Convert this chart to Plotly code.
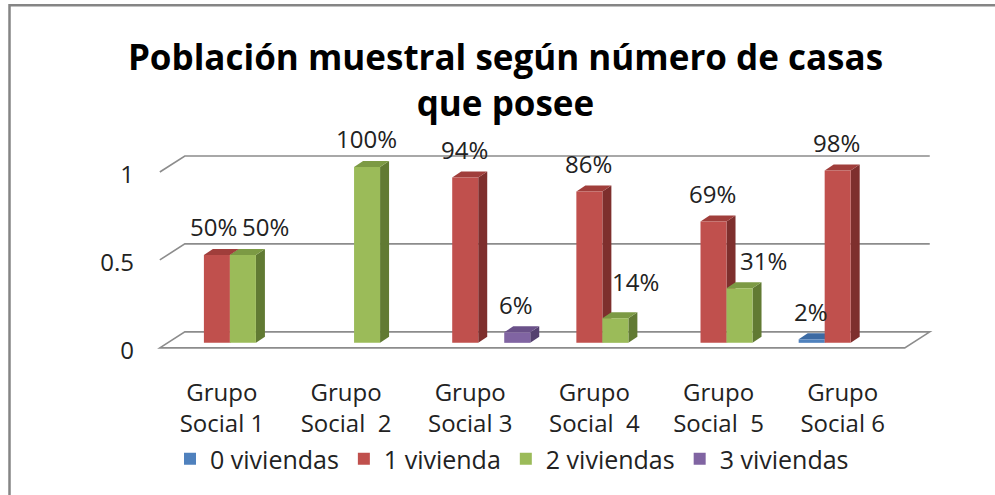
import plotly.graph_objects as go

# ---------------- data ----------------
CATEGORIES = ["Grupo<br>Social 1", "Grupo<br>Social\u00a0 2", "Grupo<br>Social 3",
              "Grupo<br>Social\u00a0 4", "Grupo<br>Social\u00a0 5", "Grupo<br>Social 6"]
SERIES = ["0 viviendas", "1 vivienda", "2 viviendas", "3 viviendas"]
V0 = [None, None, None, None, None, 0.02]
V1 = [0.50, None, 0.94, 0.86, 0.69, 0.98]
V2 = [0.50, 1.00, None, 0.14, 0.31, None]
V3 = [None, None, 0.06, None, None, None]
Y_TICKS = [0, 0.5, 1]
Y_TICK_TEXT = ["0", "0.5", "1"]
TITLE = "Población muestral según número de casas<br>que posee"

VALUES = [V0, V1, V2, V3]

# ---------------- style ----------------
FRONT = ["#4F81BD", "#C0504D", "#9BBB59", "#8064A2"]
SIDE = ["#2E5587", "#7E2F2D", "#617A33", "#54406F"]
TOP = ["#3C6AA3", "#A03E3B", "#7C9A44", "#6A5189"]
GRID = "#8C8C8C"
FONT = "Open Sans"

W, H = 995, 495
L, R, T, B = 143, 45, 123, 117
XR = [-0.7, 5.8]
YR = [-0.2, 1.25]
SX = (W - L - R) / (XR[1] - XR[0])   # px per category unit
SY = (H - T - B) / (YR[1] - YR[0])   # px per value unit


def dx(p):
    return p / SX


def dy(p):
    return p / SY


SLOT = 0.2095            # width of one column (category units)
DEPTH = (dx(9), dy(6))    # column side/top depth
BACK = (dx(17), dy(11))   # back wall offset from the column plane
FRONTP = (dx(-8), dy(-5))  # front edge offset from the column plane

# label nudges (px) for labels Excel moved to avoid overlaps: (series, group) -> (dx, dy)
LABEL_NUDGE = {(1, 0): (-3, 0), (2, 0): (23, 0), (2, 3): (20, 9), (2, 4): (24, 0)}

fig = go.Figure()
shapes = []
annotations = []


def poly(pts, fill, line_color=None, line_width=0):
    path = "M " + " L ".join(f"{x},{y}" for x, y in pts) + " Z"
    d = dict(type="path", path=path, xref="x", yref="y", layer="below",
             fillcolor=fill, line=dict(width=line_width, color=line_color or fill))
    return d


# floor
xl, xr = -0.5, 5.5
floor = [(xl + FRONTP[0], FRONTP[1]), (xl + BACK[0], BACK[1]),
         (xr + BACK[0], BACK[1]), (xr + FRONTP[0], FRONTP[1])]
shapes.append(poly(floor, "white", GRID, 1.6))
# gridlines (left diagonal + back wall)
for v in Y_TICKS[1:]:
    path = (f"M {xl + FRONTP[0]},{v + FRONTP[1]} L {xl + BACK[0]},{v + BACK[1]} "
            f"L {xr + BACK[0]},{v + BACK[1]}")
    shapes.append(dict(type="path", path=path, xref="x", yref="y", layer="below",
                       line=dict(color=GRID, width=1.6)))

# columns
for k, (name, vals) in enumerate(zip(SERIES, VALUES)):
    off = (k - 2) * SLOT
    fig.add_trace(go.Bar(
        x=list(range(len(CATEGORIES))), y=vals, name=name,
        width=SLOT, offset=off, marker=dict(color=FRONT[k], line=dict(width=0)),
        hoverinfo="skip",
    ))
    for i, v in enumerate(vals):
        if v is None:
            continue
        x0 = i + off
        x1 = x0 + SLOT
        ddx, ddy = DEPTH
        shapes.append(poly([(x1, 0), (x1 + ddx, ddy), (x1 + ddx, v + ddy), (x1, v)], SIDE[k]))
        shapes.append(poly([(x0, v), (x0 + ddx, v + ddy), (x1 + ddx, v + ddy), (x1, v)], TOP[k]))
        nx, ny = LABEL_NUDGE.get((k, i), (-1, 0))
        annotations.append(dict(
            x=(x0 + x1) / 2, y=v, xref="x", yref="y", text=f"{round(v * 100)}%",
            showarrow=False, xshift=nx, yshift=28 + ny,
            font=dict(family=FONT, size=24, color="#222222"),
        ))

# chart border (partially cropped frame)
pw, ph = W - L - R, H - T - B
shapes.append(dict(type="rect", xref="paper", yref="paper",
                   x0=(9.5 - L) / pw, x1=(W + 20 - L) / pw,
                   y0=(H - B - (H + 20)) / ph, y1=(H - B - 5.3) / ph,
                   line=dict(color="#858585", width=2.5), fillcolor="rgba(0,0,0,0)",
                   layer="above"))

fig.update_layout(
    width=W, height=H,
    margin=dict(l=L, r=R, t=T, b=B, autoexpand=False),
    paper_bgcolor="white", plot_bgcolor="white",
    barmode="overlay",
    showlegend=True,
    title=dict(text=TITLE, x=0.508, xref="container", xanchor="center",
               y=1 - 70 / H, yref="container", yanchor="top",
               font=dict(family=FONT, size=35, color="black", weight="bold")),
    xaxis=dict(range=XR, tickmode="array", tickvals=list(range(len(CATEGORIES))),
               ticktext=CATEGORIES, showgrid=False, zeroline=False, showline=False,
               ticks="", ticklabelshift=-8, ticklabelstandoff=-2, automargin=False,
               tickfont=dict(family=FONT, size=24, color="#222222"), fixedrange=True),
    yaxis=dict(range=YR, tickmode="array", tickvals=Y_TICKS, ticktext=Y_TICK_TEXT,
               showgrid=False, zeroline=False, showline=False, ticks="",
               ticklabelshift=8, ticklabelstandoff=8, automargin=False,
               tickfont=dict(family=FONT, size=24, color="#222222"), fixedrange=True),
    legend=dict(orientation="h", xref="container", yref="container",
                x=(170) / W, xanchor="left", y=1 - 436 / H, yanchor="top",
                bgcolor="rgba(0,0,0,0)",
                font=dict(family=FONT, size=25, color="#222222"),
                itemwidth=30, traceorder="normal"),
    shapes=shapes,
    annotations=annotations,
)

fig.write_html("out.html", config={"displayModeBar": False, "staticPlot": True},
               post_script="document.body.style.margin='0';")
